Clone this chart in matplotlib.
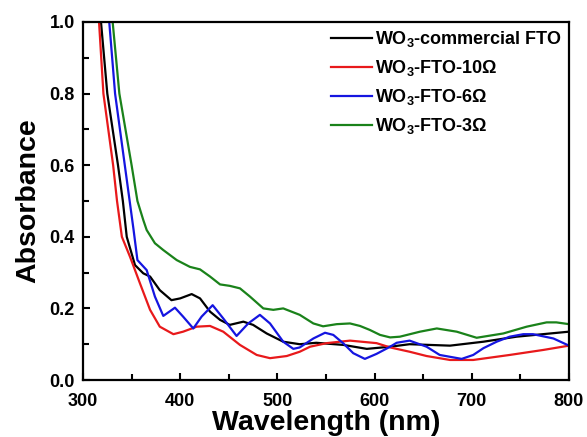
import matplotlib.pyplot as plt
from matplotlib.ticker import MultipleLocator

plt.rcParams['font.family'] = ['Liberation Sans', 'DejaVu Sans']
plt.rcParams['font.weight'] = 'bold'
plt.rcParams['mathtext.fontset'] = 'custom'
plt.rcParams['mathtext.rm'] = 'Liberation Sans:bold'
plt.rcParams['mathtext.bf'] = 'Liberation Sans:bold'
plt.rcParams['mathtext.default'] = 'bf'

# values
wl_black = [318.5, 325, 336, 341, 345, 353.5, 362, 369, 379, 391, 400, 411.8, 420.4, 430.7,
            441, 451, 465, 475, 489, 506, 523, 540, 568, 592, 616, 636, 677.6, 712, 746, 800]
abs_black = [1.0, 0.8, 0.6, 0.5, 0.4, 0.321, 0.298, 0.289, 0.251, 0.223, 0.228, 0.240, 0.228, 0.191,
             0.168, 0.154, 0.163, 0.154, 0.130, 0.107, 0.100, 0.104, 0.098, 0.087, 0.093, 0.100, 0.096,
             0.107, 0.121, 0.135]

wl_red = [316.5, 321, 331, 335, 340, 348.4, 358.6, 369, 379, 393, 403, 417, 430.7, 444.3, 461.5,
          478.7, 492.4, 509.6, 523, 533.6, 550.7, 574.7, 602, 616, 636, 653.5, 677.6, 701.5, 739,
          773.6, 800]
abs_red = [1.0, 0.8, 0.6, 0.5, 0.4, 0.344, 0.270, 0.196, 0.149, 0.128, 0.135, 0.149, 0.151, 0.135, 0.098,
           0.070, 0.061, 0.067, 0.079, 0.093, 0.103, 0.110, 0.103, 0.091, 0.079, 0.067, 0.056, 0.056,
           0.070, 0.084, 0.096]

wl_blue = [327, 333, 343, 347, 352, 356, 365.5, 374, 382.6, 394.6, 403, 413.5, 422, 433.4,
           444.3, 458, 470, 482, 492.4, 506, 516.4, 523, 537, 549, 557.5, 568, 578, 590, 602, 616,
           622.7, 636, 653.5, 667, 689.6, 701.5, 712, 725.6, 739, 753, 763, 784, 800]
abs_blue = [1.0, 0.8, 0.6, 0.52, 0.42, 0.335, 0.307, 0.233, 0.179, 0.202, 0.177, 0.144, 0.177, 0.209,
            0.172, 0.123, 0.158, 0.182, 0.158, 0.107, 0.087, 0.091, 0.116, 0.132, 0.126, 0.102, 0.075,
            0.059, 0.073, 0.093, 0.104, 0.110, 0.093, 0.070, 0.059, 0.070, 0.089, 0.107, 0.121, 0.128,
            0.128, 0.116, 0.096]

wl_green = [330.5, 337.4, 350, 356, 362, 365.5, 374, 382.6, 396.4, 410, 420.4, 430.7, 441, 451, 461.5,
            471.8, 485.5, 495.8, 506, 523, 537, 547, 561, 574.7, 585, 595, 605.6, 616, 626, 646.7,
            664, 684.5, 705, 732.4, 756.5, 777, 787, 800]
abs_green = [1.0, 0.8, 0.6, 0.5, 0.447, 0.419, 0.382, 0.363, 0.335, 0.316, 0.309, 0.289, 0.267, 0.263,
             0.256, 0.233, 0.200, 0.196, 0.200, 0.182, 0.158, 0.150, 0.156, 0.158, 0.151, 0.140, 0.126,
             0.119, 0.121, 0.135, 0.144, 0.135, 0.118, 0.130, 0.149, 0.161, 0.161, 0.156]

labels = ['WO$_3$-commercial FTO', 'WO$_3$-FTO-10\u03a9', 'WO$_3$-FTO-6\u03a9', 'WO$_3$-FTO-3\u03a9']
colors = ['black', '#e8191b', '#1515e0', '#1a821a']

fig = plt.figure(figsize=(5.87, 4.37), dpi=100)
ax = fig.add_axes([0.1414, 0.1304, 0.8279, 0.8193])

ax.plot(wl_black, abs_black, color=colors[0], lw=1.6, label=labels[0])
ax.plot(wl_red, abs_red, color=colors[1], lw=1.6, label=labels[1])
ax.plot(wl_blue, abs_blue, color=colors[2], lw=1.6, label=labels[2])
ax.plot(wl_green, abs_green, color=colors[3], lw=1.6, label=labels[3])

ax.set_xlim(300, 800)
ax.set_ylim(0, 1.0)
ax.xaxis.set_major_locator(MultipleLocator(100))
ax.xaxis.set_minor_locator(MultipleLocator(50))
ax.yaxis.set_major_locator(MultipleLocator(0.2))
ax.yaxis.set_minor_locator(MultipleLocator(0.1))
ax.tick_params(which='both', direction='in', width=1.5, labelsize=13)
ax.tick_params(which='major', length=5)
ax.tick_params(which='minor', length=4)
ax.tick_params(axis='x', pad=9)
ax.tick_params(axis='y', pad=6)
for s in ax.spines.values():
    s.set_linewidth(1.6)

ax.set_xlabel('Wavelength (nm)', fontsize=20.5, fontweight='bold', labelpad=0)
ax.set_ylabel('Absorbance', fontsize=20.5, fontweight='bold', labelpad=6)

ax.legend(loc='upper right', frameon=False, fontsize=13, handlelength=2.3,
          handletextpad=0.15, labelspacing=0.5, borderaxespad=0.0)

fig.savefig('out.png', dpi=100)
